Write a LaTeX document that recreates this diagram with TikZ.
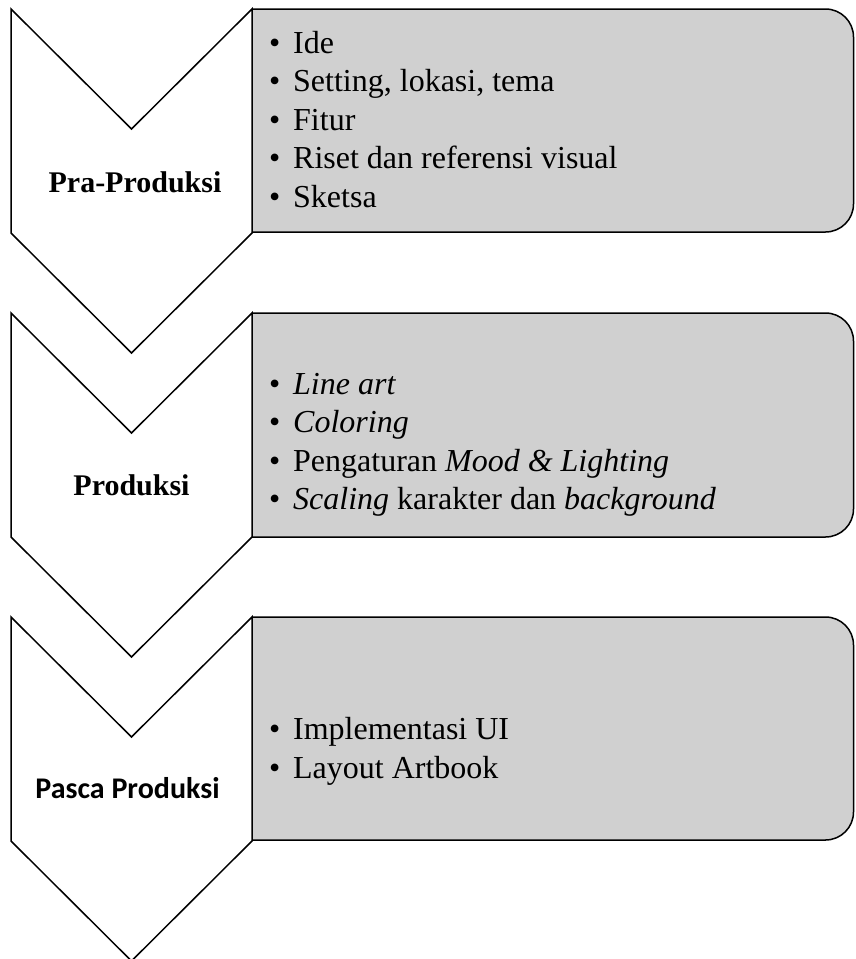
\documentclass[tikz,border=0pt]{standalone}
\usepackage{fontspec}
\setmainfont{Liberation Serif}
\newfontfamily\labserif{Liberation Serif Bold}
\newfontfamily\labsans{Carlito Bold}
\definecolor{boxgray}{RGB}{208,208,208}
\begin{document}
\begin{tikzpicture}[x=1pt,y=-1pt,
  chev/.style={draw=black,line width=1.5pt,fill=white,line join=miter},
  listbox/.style={draw=black,line width=1.5pt,fill=boxgray,rounded corners=28pt},
  item/.style={anchor=base west,inner sep=0pt,font=\fontsize{32}{38}\selectfont},
  lab/.style={anchor=base,inner sep=0pt,font=\labserif\fontsize{30}{36}\selectfont}]
\useasboundingbox (0,0) rectangle (855,959);
\newcommand{\bul}{\makebox[24pt][l]{\textbullet}}
% boxes (right corners rounded; left part clipped)
\foreach \t/\b in {9/232, 313/537, 617/840}{
  \begin{scope}
    \clip (252,0) rectangle (900,960);
    \draw[listbox] (200,\t) rectangle (853.5,\b);
  \end{scope}
}
% chevrons
\foreach \t in {9,313,617}{
  \draw[chev] (11,\t) -- (131.5,\t+120) -- (252,\t) -- (252,\t+224) -- (131.5,\t+344) -- (11,\t+224) -- cycle;
}
% labels
\node[lab] (l1) at (135,192) {Pra-Produksi};
\node[lab] (l2) at (131.5,495) {Produksi};
\node[lab,font=\labsans\fontsize{30}{36}\selectfont] (l3) at (127.5,798) {Pasca Produksi};
% box 1
\node[item] (a1) at (269,53) {\bul Ide};
\node[item] (a2) at (269,91.5) {\bul Setting, lokasi, tema};
\node[item] (a3) at (269,130) {\bul Fitur};
\node[item] (a4) at (269,168.5) {\bul Riset dan referensi visual};
\node[item] (a5) at (269,207) {\bul Sketsa};
% box 2
\node[item] (b1) at (269,394.5) {\bul\textit{Line art}};
\node[item] (b2) at (269,432.5) {\bul\textit{Coloring}};
\node[item] (b3) at (269,471) {\bul Pengaturan \textit{Mood \& Lighting}};
\node[item] (b4) at (269,509.5) {\bul\textit{Scaling} karakter dan \textit{background}};
% box 3
\node[item] (c1) at (269,739.5) {\bul Implementasi UI};
\node[item] (c2) at (269,778) {\bul Layout Artbook};
\end{tikzpicture}
\end{document}
